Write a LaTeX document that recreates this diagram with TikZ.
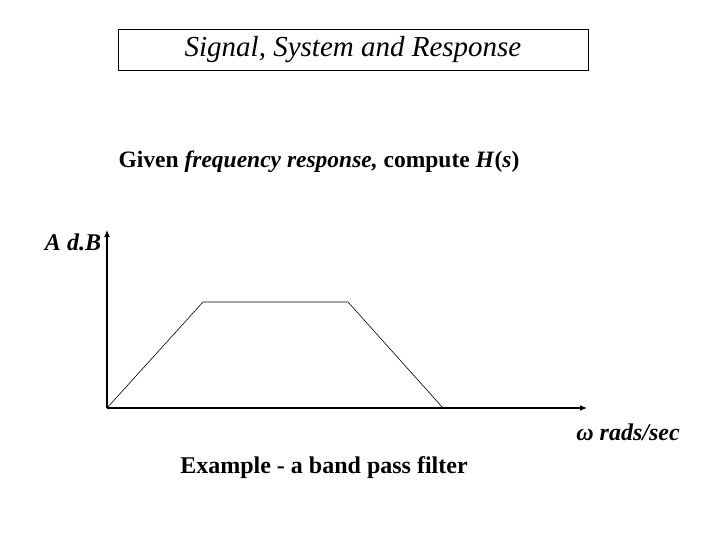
\documentclass[tikz,border=0pt]{standalone}
\usetikzlibrary{arrows.meta}
\usepackage{fontspec}
\setmainfont{Liberation Serif}
\begin{document}
\begin{tikzpicture}[x=1pt,y=-1pt,
  lbl/.style={inner sep=0pt,anchor=center},
  ln/.style={draw=black,line width=0.6pt}]
\useasboundingbox[fill=white] (0,0) rectangle (720,540);
\node[draw,line width=1pt,minimum width=470pt,minimum height=41pt,inner sep=0pt] (title) at (353,50.5) {};
\node[lbl,font=\fontsize{29}{33}\selectfont\itshape] (tt) at (353,50) {Signal, System and Response};
\node[lbl,font=\fontsize{23.5}{28}\selectfont\bfseries] (given) at (319,162) {Given \textit{frequency response,} compute \textit{H}(\textit{s})};
\node[lbl,font=\fontsize{24}{28}\selectfont\bfseries\itshape] (adb) at (73,242) {A d.B};
\coordinate (o) at (107,408);
\coordinate (ytop) at (107,230);
\coordinate (xend) at (587,408);
\coordinate (p1) at (203,302);
\coordinate (p2) at (348,302);
\coordinate (p3) at (443,408);
\draw[line width=1.2pt,-{Latex[length=7pt,width=6pt]}] (o) -- (ytop);
\draw[line width=1.2pt,-{Latex[length=7pt,width=6pt]}] (o) -- (xend);
\draw[ln] (o) -- (p1) -- (p2) -- (p3);
\node[lbl,font=\fontsize{24}{28}\selectfont\bfseries\itshape] (w) at (628,432) {ω rads/sec};
\node[lbl,font=\fontsize{24}{28}\selectfont\bfseries] (ex) at (324,468) {Example - a band pass filter};
\end{tikzpicture}
\end{document}
